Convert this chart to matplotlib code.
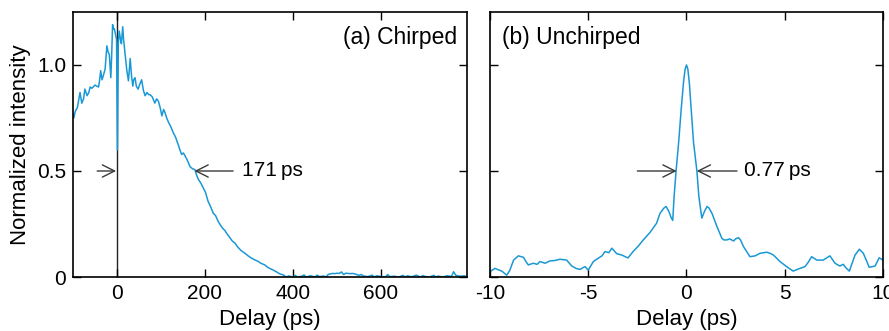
import matplotlib
matplotlib.use("Agg")
import matplotlib.pyplot as plt
import numpy as np

plt.rcParams['font.family'] = ['Liberation Sans', 'DejaVu Sans']

# ---------------- data: (a) chirped ----------------
chirped_delay_main = [
    -100, -98, -95, -90, -84, -80, -76, -73, -68, -64,
    -61, -57, -50, -46, -42, -40, -37, -34, -31, -27,
    -23, -20, -17.5, -14, -12, -10, -8, -6, -4, -1,
    1, 3, 5, 8, 10, 13, 15, 18, 22, 26,
    28, 30, 33, 36, 38, 41, 44, 48, 52, 56,
    60, 64, 68, 72, 75, 80, 86, 90, 94, 98,
    102, 106, 109, 113, 117, 122, 128, 133, 139, 143,
    147, 151, 155, 160, 166, 172, 177, 181, 185, 190,
    196, 201, 207, 213, 219, 224, 230, 235, 240, 245,
    249, 255, 262, 268, 275, 282, 291, 298, 305, 314,
    320, 327, 336, 343, 350, 355, 362, 370, 378, 385,
]
chirped_int_main = [
    0.77, 0.75, 0.78, 0.80, 0.87, 0.82, 0.84, 0.886, 0.855, 0.87,
    0.896, 0.89, 0.905, 0.90, 0.896, 0.92, 0.973, 0.93, 0.95, 0.98,
    1.09, 1.06, 1.05, 0.94, 1.05, 1.19, 1.17, 1.17, 1.15, 1.12,
    0.6, 1.10, 1.16, 1.12, 1.10, 1.18, 1.12, 1.06, 0.98, 0.925,
    0.98, 1.03, 0.95, 0.90, 0.93, 0.94, 0.90, 0.886, 0.91, 0.93,
    0.88, 0.855, 0.87, 0.86, 0.86, 0.85, 0.82, 0.84, 0.83, 0.80,
    0.76, 0.79, 0.776, 0.75, 0.73, 0.71, 0.68, 0.66, 0.625, 0.60,
    0.578, 0.585, 0.57, 0.55, 0.52, 0.51, 0.507, 0.48, 0.46, 0.445,
    0.42, 0.40, 0.357, 0.33, 0.30, 0.29, 0.262, 0.245, 0.23, 0.22,
    0.207, 0.19, 0.17, 0.16, 0.14, 0.125, 0.112, 0.10, 0.09, 0.08,
    0.075, 0.065, 0.057, 0.045, 0.038, 0.033, 0.025, 0.015, 0.01, 0.0,
]
chirped_delay_tail = [
    390, 400, 405, 410, 420, 425, 430, 440, 450, 455,
    460, 470, 475, 480, 485, 490, 495, 500, 505, 510,
    515, 520, 530, 535, 540, 550, 555, 560, 570, 580,
    585, 590, 600, 610, 615, 620, 630, 640, 650, 655,
    660, 670, 680, 690, 695, 700, 710, 720, 725, 730,
    740, 750, 760, 765, 770, 780, 790, 795,
]
chirped_int_tail = [
    0.005, 0.0, 0.008, 0.0, 0.004, 0.01, 0.0, 0.006, 0.0, 0.009,
    0.002, 0.005, 0.0, 0.012, 0.015, 0.017, 0.016, 0.018, 0.017, 0.024,
    0.012, 0.018, 0.016, 0.017, 0.015, 0.008, 0.012, 0.005, 0.002, 0.009,
    0.0, 0.006, 0.003, 0.0, 0.012, 0.002, 0.004, 0.0, 0.008, 0.0,
    0.006, 0.001, 0.009, 0.0, 0.007, 0.003, 0.0, 0.008, 0.0, 0.005,
    0.0, 0.006, 0.003, 0.025, 0.008, 0.004, 0.006, 0.0,
]

# ---------------- data: (b) unchirped ----------------
unchirped_delay = [
    -10, -9.75, -9.6, -9.4, -9.15, -9.0, -8.8, -8.56, -8.3, -8.15,
    -8.05, -7.8, -7.6, -7.46, -7.2, -6.95, -6.7, -6.44, -6.1, -5.84,
    -5.6, -5.42, -5.17, -5.0, -4.74, -4.49, -4.3, -4.15, -3.95, -3.8,
    -3.55, -3.3, -2.98, -2.72, -2.47, -2.2, -1.86, -1.52, -1.35, -1.15,
    -1.04, -0.9, -0.78, -0.70, -0.63, -0.53, -0.4, -0.27, -0.15, -0.07,
    0.0, 0.07, 0.15, 0.24, 0.36, 0.53, 0.63, 0.78, 0.92, 1.05,
    1.15, 1.3, 1.55, 1.8, 1.9, 2.05, 2.2, 2.4, 2.5, 2.64,
    2.75, 2.9, 3.23, 3.5, 3.74, 4.08, 4.25, 4.42, 4.59, 4.76,
    5.1, 5.43, 5.78, 6.03, 6.2, 6.37, 6.63, 6.96, 7.3, 7.56,
    7.8, 7.98, 8.1, 8.29, 8.45, 8.58, 8.8, 9.0, 9.15, 9.3,
    9.6, 9.81, 10.0,
]
unchirped_int = [
    0.025, 0.041, 0.035, 0.028, 0.009, 0.03, 0.08, 0.10, 0.093, 0.07,
    0.057, 0.065, 0.06, 0.073, 0.065, 0.076, 0.078, 0.084, 0.08, 0.052,
    0.04, 0.036, 0.049, 0.033, 0.073, 0.089, 0.10, 0.12, 0.115, 0.136,
    0.11, 0.104, 0.09, 0.12, 0.144, 0.175, 0.21, 0.254, 0.30, 0.325,
    0.333, 0.31, 0.28, 0.267, 0.38, 0.5, 0.634, 0.79, 0.92, 0.98,
    1.0, 0.98, 0.91, 0.79, 0.634, 0.5, 0.38, 0.278, 0.31, 0.333,
    0.325, 0.30, 0.238, 0.183, 0.175, 0.175, 0.18, 0.17, 0.18, 0.186,
    0.175, 0.144, 0.096, 0.10, 0.112, 0.117, 0.112, 0.104, 0.089, 0.073,
    0.049, 0.028, 0.041, 0.049, 0.07, 0.096, 0.08, 0.08, 0.10, 0.065,
    0.052, 0.06, 0.045, 0.028, 0.07, 0.104, 0.131, 0.112, 0.08, 0.046,
    0.052, 0.091, 0.08,
]

yticks = [0, 0.5, 1.0]
ytick_labels = ['0', '0.5', '1.0']
xticks_a = [0, 200, 400, 600]
xticks_b = [-10, -5, 0, 5, 10]
xtick_labels_b = ['-10', '-5', '0', '5', '10']

line_color = '#1a98d5'
arrow_color = '#3a3a3a'

fig = plt.figure(figsize=(8.89, 3.31), dpi=100)
axA = fig.add_axes([0.0821, 0.163, 0.443, 0.801])
axB = fig.add_axes([0.5512, 0.163, 0.442, 0.801])

for ax in (axA, axB):
    for s in ax.spines.values():
        s.set_linewidth(1.2)
    ax.tick_params(direction='in', top=True, right=True, length=6, width=1.0,
                   labelsize=15, pad=5)
    ax.set_ylim(0, 1.25)
    ax.set_yticks(yticks)

# (a)
axA.plot(chirped_delay_main + chirped_delay_tail,
         chirped_int_main + chirped_int_tail, color=line_color, lw=1.1)
axA.axvline(0, color='#222222', lw=1.0, zorder=1)
axA.set_xlim(-100, 795)
axA.set_xticks(xticks_a)
axA.set_yticklabels(ytick_labels)
axA.set_xlabel('Delay (ps)', fontsize=16, labelpad=4)
axA.set_ylabel('Normalized intensity', fontsize=16, labelpad=4)
axA.text(0.975, 0.945, '(a) Chirped', transform=axA.transAxes, ha='right',
         va='top', fontsize=16.5)
ap = dict(arrowstyle='->', color=arrow_color, lw=1.0,
          mutation_scale=22, shrinkA=0, shrinkB=0)
axA.annotate('', xy=(-2, 0.5), xytext=(-45, 0.5), arrowprops=ap)
axA.annotate('', xy=(176, 0.5), xytext=(264, 0.5), arrowprops=ap)
axA.text(285, 0.5, '171\u2009ps', ha='left', va='center', fontsize=15)

# (b)
axB.plot(unchirped_delay, unchirped_int, color=line_color, lw=1.1)
axB.set_xlim(-10, 10)
axB.set_xticks(xticks_b)
axB.set_xticklabels(xtick_labels_b)
axB.set_yticklabels([])
axB.set_xlabel('Delay (ps)', fontsize=16, labelpad=4)
axB.text(0.03, 0.945, '(b) Unchirped', transform=axB.transAxes, ha='left',
         va='top', fontsize=16.5)
axB.annotate('', xy=(-0.5, 0.5), xytext=(-2.5, 0.5), arrowprops=ap)
axB.annotate('', xy=(0.52, 0.5), xytext=(2.57, 0.5), arrowprops=ap)
axB.text(2.95, 0.5, '0.77\u2009ps', ha='left', va='center', fontsize=15)

fig.savefig('out.png', dpi=100)
